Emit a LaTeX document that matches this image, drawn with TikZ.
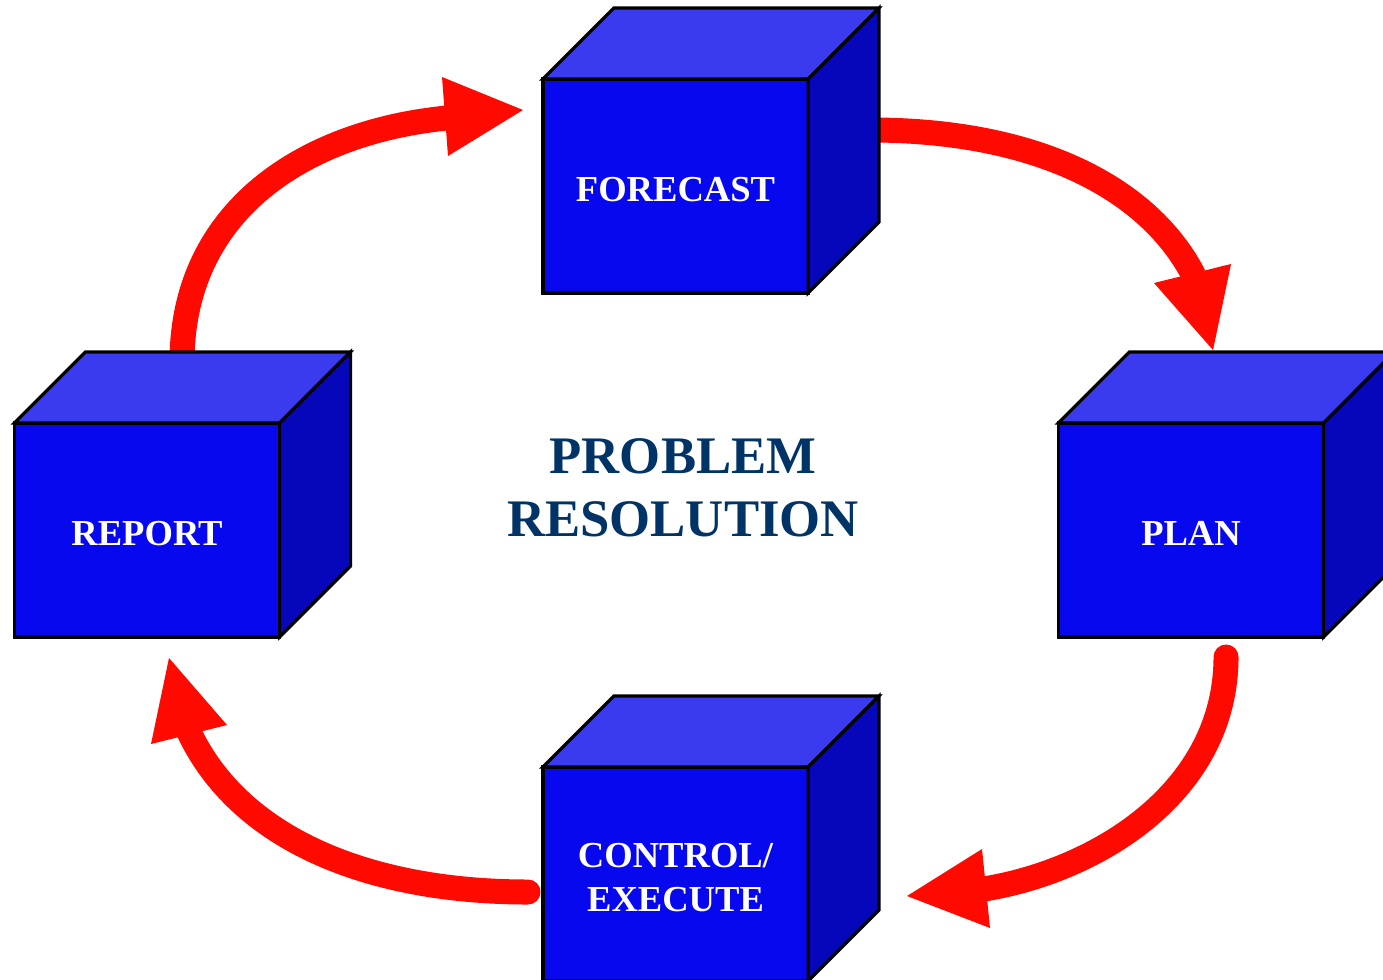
\documentclass[tikz,border=0pt]{standalone}
\usepackage{fontspec}
\setmainfont{Liberation Serif}
\definecolor{frontc}{HTML}{0808EE}
\definecolor{topc}{HTML}{3A3AEE}
\definecolor{sidec}{HTML}{0606BB}
\definecolor{arrowred}{HTML}{FF0A00}
\definecolor{navyc}{HTML}{003366}
\newcommand\cubeat[4]{%
  \node[frontbox] (#1) at (#2,#3) {};
  \draw[face,fill=topc] (#1.north west) -- ++(71,-71) -- ++(265,0) -- (#1.north east) -- cycle;
  \draw[face,fill=sidec] (#1.north east) -- ++(71,-71) -- ++(0,214) -- (#1.south east) -- cycle;
  \node[boxtext] (#1-text) at ([yshift=-0.035cm]#1.center) {#4};
}
\begin{document}
\begin{tikzpicture}[x=0.01cm,y=-0.01cm,
  face/.style={draw=black,line width=0.9pt,line join=miter},
  frontbox/.style={face,fill=frontc,minimum width=2.65cm,minimum height=2.14cm,inner sep=0pt,outer sep=0pt},
  boxtext/.style={text=white,font=\bfseries\fontsize{10.4}{12.5}\selectfont,align=center,inner sep=0pt},
  shaft/.style={draw=arrowred,line width=0.25cm},
  head/.style={fill=arrowred}]
\useasboundingbox (0,0) rectangle (1383,979);
\clip (0,0) rectangle (1383,979);
\fill[white] (0,0) rectangle (1383,979);

% arrow coordinates
\coordinate (a1s) at (182,362);
\coordinate (a1e) at (447,118);
\coordinate (a1t) at (523,110);
\coordinate (a1l) at (442,77);
\coordinate (a1r) at (448,156);

\coordinate (a2s) at (870,130);
\coordinate (a2e) at (1194,276);
\coordinate (a2t) at (1213,350);
\coordinate (a2l) at (1154,283);
\coordinate (a2r) at (1231,264);

\coordinate (a3s) at (1226,657);
\coordinate (a3e) at (984,889);
\coordinate (a3t) at (907,896);
\coordinate (a3l) at (982,849);
\coordinate (a3r) at (990,928);

\coordinate (a4s) at (528,892);
\coordinate (a4e) at (189,732);
\coordinate (a4t) at (169,658);
\coordinate (a4l) at (151,744);
\coordinate (a4r) at (227,725);

% shafts
\draw[shaft,line cap=butt] (a1s) .. controls (182,210) and (305,132) .. (a1e);
\draw[shaft,line cap=butt] (a2s) .. controls (1040,130) and (1150,190) .. (a2e);
\draw[shaft,line cap=round] (a3s) .. controls (1226,790) and (1100,870) .. (a3e);
\draw[shaft,line cap=round] (a4s) .. controls (370,892) and (240,840) .. (a4e);

% heads
\fill[head] (a1t) -- (a1l) -- (a1r) -- cycle;
\fill[head] (a2t) -- (a2l) -- (a2r) -- cycle;
\fill[head] (a3t) -- (a3l) -- (a3r) -- cycle;
\fill[head] (a4t) -- (a4l) -- (a4r) -- cycle;

% cubes
\cubeat{fc}{675.5}{186}{FORECAST}
\cubeat{rp}{147}{530}{REPORT}
\cubeat{pl}{1191}{530}{PLAN}
\cubeat{ce}{675.5}{874}{CONTROL/\\EXECUTE}

% centre title
\node[text=navyc,font=\bfseries\fontsize{15}{18}\selectfont,align=center] (title) at (683,488) {PROBLEM\\RESOLUTION};
\end{tikzpicture}
\end{document}
